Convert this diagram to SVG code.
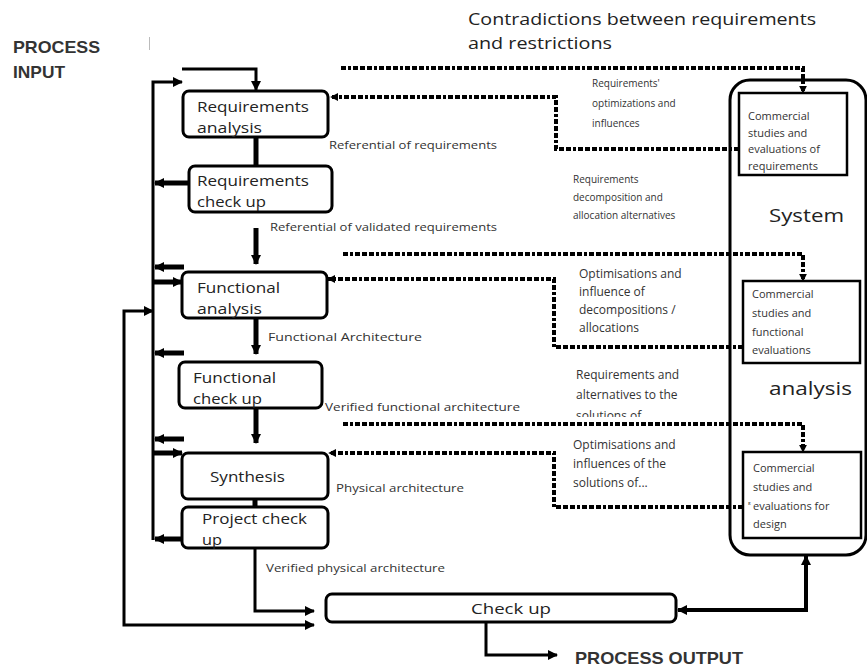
<svg xmlns="http://www.w3.org/2000/svg" width="867" height="668" viewBox="0 0 867 668">
  <style>
    .box { fill: #fff; stroke: #000; stroke-width: 3; }
    .sq { fill: #fff; stroke: #000; stroke-width: 2.5; }
    .ln { fill: none; stroke: #000; stroke-width: 3; }
    .thk { fill: none; stroke: #000; stroke-width: 5; }
    .dot { fill: none; stroke: #000; stroke-width: 4; stroke-dasharray: 5 2 3 2 5 2 5 2; }
    text { font-family: "Open Sans", "Noto Sans", sans-serif; fill: #222; }
    .lbl { font-size: 15px; }
    .sm { font-size: 11.5px; fill: #333; }
    .mid { font-size: 10px; fill: #333; }
    .mid2 { font-size: 12px; fill: #333; }
    .cs { font-size: 11px; fill: #333; }
    .big { font-size: 16px; }
    .sys { font-size: 19px; }
    .hdr { font-family: "Liberation Sans", Arial, sans-serif; font-weight: bold; font-size: 17px; fill: #333; }
  </style>
  <defs>
    <marker id="arr" markerUnits="userSpaceOnUse" viewBox="0 0 10 10" markerWidth="10" markerHeight="10" refX="9" refY="5" orient="auto-start-reverse">
      <path d="M0,0 L10,5 L0,10 z" fill="#000"/>
    </marker>
    <marker id="arrS" markerUnits="userSpaceOnUse" viewBox="0 0 10 10" markerWidth="8" markerHeight="8" refX="9" refY="5" orient="auto-start-reverse">
      <path d="M0,0 L10,5 L0,10 z" fill="#000"/>
    </marker>
    <clipPath id="cut">
      <rect x="560" y="400" width="160" height="17"/>
    </clipPath>
  </defs>

  <!-- headings -->
  <text class="hdr" x="13" y="53" textLength="87" lengthAdjust="spacingAndGlyphs">PROCESS</text>
  <text class="hdr" x="13" y="78" textLength="52" lengthAdjust="spacingAndGlyphs">INPUT</text>
  <line x1="149.5" y1="37" x2="149.5" y2="50" stroke="#bbb" stroke-width="1"/>
  <text class="big" x="468" y="25" textLength="348" lengthAdjust="spacingAndGlyphs">Contradictions between requirements</text>
  <text class="big" x="468" y="49" textLength="144" lengthAdjust="spacingAndGlyphs">and restrictions</text>
  <text class="hdr" x="575" y="664" textLength="168" lengthAdjust="spacingAndGlyphs">PROCESS OUTPUT</text>

  <!-- connectors -->
  <g id="connectors">
    <path class="ln" d="M182,69 H256 V90" marker-end="url(#arr)"/>
    <path class="ln" d="M153,540 V82 H182" marker-end="url(#arr)"/>
    <path class="ln" d="M153,311 H124 V625 H314" marker-start="url(#arr)" marker-end="url(#arr)"/>
    <path class="thk" d="M256,137 V166"/>
    <path class="thk" d="M189,183 H155" marker-end="url(#arr)"/>
    <path class="thk" d="M256,228 V264" marker-end="url(#arr)"/>
    <path class="thk" d="M184,267 H155" marker-end="url(#arr)"/>
    <path class="thk" d="M153,282 H182" marker-end="url(#arr)"/>
    <path class="thk" d="M256,318 V354" marker-end="url(#arr)"/>
    <path class="thk" d="M184,353 H155" marker-end="url(#arr)"/>
    <path class="thk" d="M256,408 V443" marker-end="url(#arr)"/>
    <path class="thk" d="M184,439 H155" marker-end="url(#arr)"/>
    <path class="thk" d="M153,453 H182" marker-end="url(#arr)"/>
    <path class="thk" d="M255,499 V507"/>
    <path class="thk" d="M182,539 H155" marker-end="url(#arr)"/>
    <path class="ln" d="M255,548 V611 H314" marker-end="url(#arr)"/>
    <path class="ln" d="M486,622 V655 H557" marker-end="url(#arr)"/>
    <path class="ln" style="stroke-width:4" d="M678,610 H806 V556" marker-start="url(#arr)" marker-end="url(#arr)"/>

    <path class="dot" d="M341,68 H803 V93" marker-end="url(#arrS)"/>
    <path class="dot" d="M739,149 H556 V97 H331" marker-end="url(#arrS)"/>
    <path class="dot" d="M343,254 H803 V281" marker-end="url(#arrS)"/>
    <path class="dot" d="M743,347 H554 V279 H328" marker-end="url(#arrS)"/>
    <path class="dot" d="M343,424 H803 V452" marker-end="url(#arrS)"/>
    <path class="dot" d="M743,507 H554 V453 H329" marker-end="url(#arrS)"/>
  </g>

  <!-- system analysis frame -->
  <g id="system">
    <rect x="730" y="80" width="136" height="475" rx="20" fill="none" stroke="#000" stroke-width="3"/>
    <text class="sys" x="769" y="222" textLength="75" lengthAdjust="spacingAndGlyphs">System</text>
    <text class="sys" x="769" y="395" textLength="83" lengthAdjust="spacingAndGlyphs">analysis</text>
  </g>

  <g id="cs-requirements">
    <rect class="sq" x="739" y="93" width="108" height="82"/>
    <text class="cs" x="748" y="120">Commercial</text>
    <text class="cs" x="748" y="137">studies and</text>
    <text class="cs" x="748" y="153">evaluations of</text>
    <text class="cs" x="748" y="170">requirements</text>
  </g>
  <g id="cs-functional">
    <rect class="sq" x="743" y="281" width="117" height="82"/>
    <text class="cs" x="752" y="298">Commercial</text>
    <text class="cs" x="752" y="317">studies and</text>
    <text class="cs" x="752" y="336">functional</text>
    <text class="cs" x="752" y="354">evaluations</text>
  </g>
  <g id="cs-design">
    <rect class="sq" x="743" y="452" width="118" height="86"/>
    <text class="cs" x="753" y="472">Commercial</text>
    <text class="cs" x="753" y="491">studies and</text>
    <text class="cs" x="748" y="505" style="font-size:6px">ε</text>
    <text class="cs" x="753" y="510">evaluations for</text>
    <text class="cs" x="753" y="528">design</text>
  </g>

  <!-- process steps -->
  <g id="req-analysis">
    <rect class="box" x="183" y="91" width="145" height="46" rx="6"/>
    <text class="lbl" x="197" y="112" textLength="112" lengthAdjust="spacingAndGlyphs">Requirements</text>
    <text class="lbl" x="197" y="133" textLength="65" lengthAdjust="spacingAndGlyphs">analysis</text>
  </g>
  <g id="req-check">
    <rect class="box" x="189" y="166" width="143" height="46" rx="6"/>
    <text class="lbl" x="197" y="186" textLength="112" lengthAdjust="spacingAndGlyphs">Requirements</text>
    <text class="lbl" x="197" y="207" textLength="69" lengthAdjust="spacingAndGlyphs">check up</text>
  </g>
  <g id="func-analysis">
    <rect class="box" x="182" y="272" width="145" height="46" rx="6"/>
    <text class="lbl" x="197" y="293" textLength="83" lengthAdjust="spacingAndGlyphs">Functional</text>
    <text class="lbl" x="197" y="314" textLength="65" lengthAdjust="spacingAndGlyphs">analysis</text>
  </g>
  <g id="func-check">
    <rect class="box" x="179" y="362" width="143" height="46" rx="6"/>
    <text class="lbl" x="193" y="383" textLength="83" lengthAdjust="spacingAndGlyphs">Functional</text>
    <text class="lbl" x="193" y="404" textLength="69" lengthAdjust="spacingAndGlyphs">check up</text>
  </g>
  <g id="synthesis">
    <rect class="box" x="182" y="453" width="146" height="46" rx="6"/>
    <text class="lbl" x="210" y="482" textLength="75" lengthAdjust="spacingAndGlyphs">Synthesis</text>
  </g>
  <g id="project-check">
    <rect class="box" x="182" y="507" width="146" height="41" rx="6"/>
    <text class="lbl" x="202" y="524" textLength="105" lengthAdjust="spacingAndGlyphs">Project check</text>
    <text class="lbl" x="202" y="545" textLength="20" lengthAdjust="spacingAndGlyphs">up</text>
  </g>
  <g id="check-up">
    <rect class="box" x="326" y="594" width="350" height="28" rx="6"/>
    <text class="lbl" x="471" y="614" textLength="80" lengthAdjust="spacingAndGlyphs">Check up</text>
  </g>

  <!-- flow labels -->
  <g id="labels">
    <text class="sm" x="329" y="149" textLength="168" lengthAdjust="spacingAndGlyphs">Referential of requirements</text>
    <text class="sm" x="270" y="231" textLength="227" lengthAdjust="spacingAndGlyphs">Referential of validated requirements</text>
    <text class="sm" x="268" y="341" textLength="154" lengthAdjust="spacingAndGlyphs">Functional Architecture</text>
    <text class="sm" x="325" y="411" textLength="195" lengthAdjust="spacingAndGlyphs">Verified functional architecture</text>
    <text class="sm" x="336" y="492" textLength="128" lengthAdjust="spacingAndGlyphs">Physical architecture</text>
    <text class="sm" x="266" y="572" textLength="179" lengthAdjust="spacingAndGlyphs">Verified physical architecture</text>

    <text class="mid" x="592" y="87">Requirements'</text>
    <text class="mid" x="592" y="107">optimizations and</text>
    <text class="mid" x="592" y="127">influences</text>

    <text class="mid" x="573" y="183">Requirements</text>
    <text class="mid" x="573" y="201">decomposition and</text>
    <text class="mid" x="573" y="219">allocation alternatives</text>

    <text class="mid2" x="579" y="278">Optimisations and</text>
    <text class="mid2" x="579" y="296">influence of</text>
    <text class="mid2" x="579" y="314">decompositions /</text>
    <text class="mid2" x="579" y="332">allocations</text>

    <text class="mid2" x="576" y="379">Requirements and</text>
    <text class="mid2" x="576" y="399">alternatives to the</text>
    <text class="mid2" x="576" y="420" clip-path="url(#cut)">solutions of</text>

    <text class="mid2" x="573" y="449">Optimisations and</text>
    <text class="mid2" x="573" y="468">influences of the</text>
    <text class="mid2" x="573" y="487">solutions of...</text>
  </g>
</svg>
